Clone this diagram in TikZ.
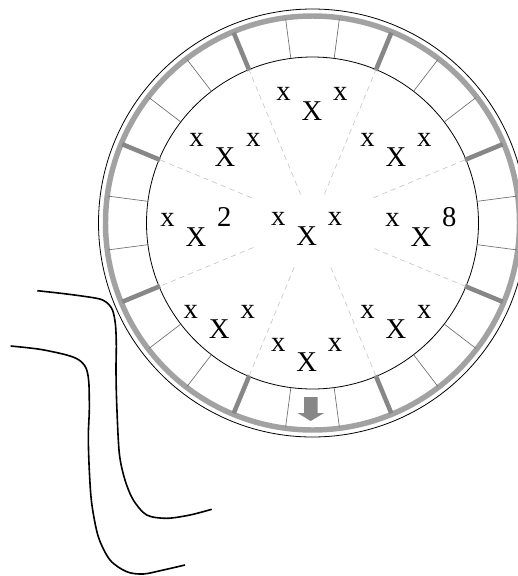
\documentclass[tikz,border=0pt]{standalone}
\usepackage{fontspec}
\setmainfont{Liberation Serif}
\usepackage{tikz}
\usetikzlibrary{arrows.meta,calc}
\definecolor{ringgray}{RGB}{162,162,162}
\definecolor{bargray}{RGB}{135,135,135}
\definecolor{tickgray}{RGB}{110,110,110}
\definecolor{dashgray}{RGB}{200,200,200}
\tikzset{
  glyph/.style={anchor=base,inner sep=0pt,font=\fontsize{21.5}{25}\selectfont},
  hand/.style={line width=1.2pt,black}
}

\begin{document}
\begin{tikzpicture}[x=0.75pt,y=-0.75pt]
      \useasboundingbox (0,0) rectangle (518,576);
      \coordinate (C) at (312.5,223);
      % rings
      \draw[black,line width=0.6pt] (C) circle (214);
      \draw[ringgray,line width=4.1pt] (C) circle (207);
      \draw[black,line width=0.6pt] (C) circle (166);
      % sector walls and cell ticks
      \foreach \a in {22.5,67.5,...,337.5}
        \draw[bargray,line width=3.4pt] ($(C)+(\a:165)$) -- ($(C)+(\a:206)$);
      \foreach \a in {0,45,...,315} {
        \draw[tickgray,line width=0.5pt] ($(C)+(\a+7.5:166)$) -- ($(C)+(\a+7.5:206)$);
        \draw[tickgray,line width=0.5pt] ($(C)+(\a-7.5:166)$) -- ($(C)+(\a-7.5:206)$);
      }
      % dashed spokes, seen angle / inner radius
      \foreach \a/\r in {22.5/66,67.5/31,112.5/31,157.5/66,202.5/64,247.5/48,292.5/48,337.5/67}
        \draw[dashgray,line width=0.5pt,dash pattern=on 4pt off 3pt] ($(C)+(-\a:\r)$) -- ($(C)+(-\a:166)$);
      % exit arrow
      \fill[bargray] (304,397) -- (317.5,397) -- (317.5,413) -- (324,413)
        -- (310.7,421) -- (297.5,413) -- (304,413) -- cycle;
      % letters: name / X base x / X base y / left / right
      \foreach \n/\px/\py/\l/\r in {T/312/120/x/x, TL/225/166.5/x/x, TR/396/166.5/x/x,
          L/196/246.5/x/2, M/306.7/245.5/x/x, R/421/246.5/x/8,
          BL/219.3/338/x/x, BR/396/338/x/x, B/306.7/371.5/x/x} {
        \node[glyph] (X\n) at (\px,\py) {X};
        \node[glyph] (l\n) at (\px-28.4,\py-20) {\l};
        \node[glyph] (r\n) at (\px+28.4,\py-20) {\r};
      }
      % the two strokes
      \draw[hand] plot[smooth] coordinates {(37.3,290.7) (66.7,294) (96.7,298.3) (106,302)
        (112.5,310) (115.5,325) (116.3,345) (116,370) (116.7,403.3) (119.3,453.3) (125,480)
        (133.3,500) (146.7,515) (166.7,518.3) (190,515) (211.7,509.3)};
      \draw[hand] plot[smooth] coordinates {(10.7,346) (40,349.3) (66.7,355) (79,360)
        (86,368) (88.8,382) (89.3,410) (88.3,436.7) (89.3,470) (91.7,503.3)
        (98.3,536.7) (110,560) (126.7,571.7) (143.3,574) (163.3,570) (185,565)};
    \end{tikzpicture}
\end{document}
